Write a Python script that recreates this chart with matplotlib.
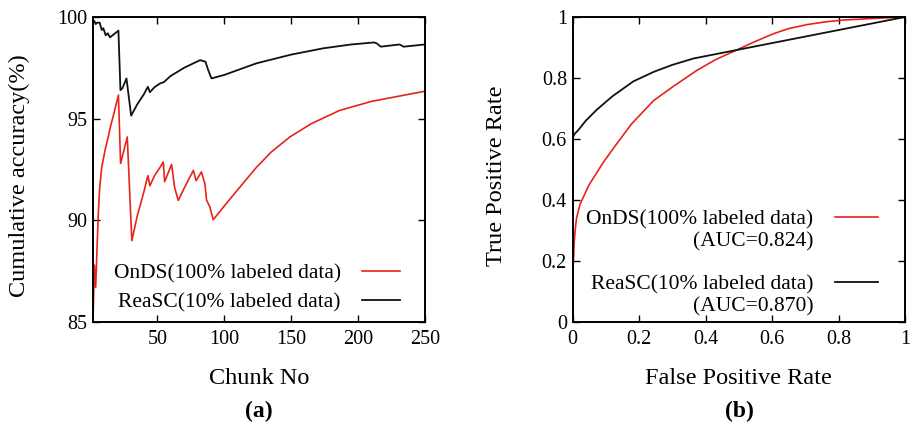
import matplotlib
matplotlib.use("Agg")
import matplotlib.pyplot as plt
from matplotlib.lines import Line2D

# ---- data ----
reasc_chunk = [2, 3, 4, 5, 7, 8.5, 9.7, 11.5, 13, 14.7, 21, 22.5, 24, 27, 30.5, 35, 40, 43,
               44.5, 48, 52, 55, 60, 70, 82, 86, 88, 90.5, 100, 124, 150, 174, 195, 212,
               214, 217, 231, 234, 250]
reasc_acc = [99.85, 99.8, 99.65, 99.72, 99.72, 99.36, 99.45, 99.1, 99.2, 99.0, 99.33, 96.4,
             96.5, 96.98, 95.15, 95.7, 96.2, 96.57, 96.3, 96.55, 96.73, 96.8, 97.1, 97.5,
             97.88, 97.8, 97.4, 96.98, 97.15, 97.72, 98.15, 98.46, 98.65, 98.75, 98.7,
             98.54, 98.65, 98.54, 98.65]

onds_chunk = [2, 3, 4, 5, 6, 7, 8.5, 11, 13.4, 15, 17, 21, 22.6, 27.6, 31, 35, 40, 43, 44.5,
              48, 52, 54.5, 55.5, 60.7, 63, 65.7, 71, 77, 79, 83, 85.6, 86.8, 89.3, 91.8,
              100, 110, 124, 135, 149, 165, 186, 210, 230, 250]
onds_acc = [85.0, 87.8, 86.7, 88.6, 90.4, 91.6, 92.6, 93.45, 94.1, 94.6, 95.1, 96.16, 92.8,
            94.1, 89.0, 90.2, 91.4, 92.2, 91.7, 92.2, 92.6, 92.87, 91.9, 92.75, 91.6, 90.98,
            91.7, 92.46, 91.95, 92.38, 91.8, 91.0, 90.66, 90.03, 90.7, 91.5, 92.6, 93.35,
            94.1, 94.75, 95.4, 95.85, 96.1, 96.35]

reasc_fpr = [0, 0, 0.005, 0.018, 0.04, 0.073, 0.12, 0.183, 0.244, 0.3, 0.364, 1.0]
reasc_tpr = [0, 0.6, 0.615, 0.63, 0.66, 0.696, 0.74, 0.789, 0.82, 0.843, 0.864, 1.0]

onds_fpr = [0, 0, 0.003, 0.005, 0.008, 0.012, 0.023, 0.05, 0.093, 0.13, 0.178, 0.244, 0.3,
            0.374, 0.43, 0.494, 0.55, 0.604, 0.65, 0.705, 0.76, 0.815, 0.9, 1.0]
onds_tpr = [0, 0.17, 0.2, 0.26, 0.3, 0.34, 0.387, 0.45, 0.524, 0.58, 0.65, 0.726, 0.77,
            0.825, 0.86, 0.892, 0.92, 0.945, 0.962, 0.975, 0.984, 0.99, 0.995, 1.0]

acc_yticks = [85, 90, 95, 100]
chunk_xticks = [50, 100, 150, 200, 250]
roc_ticks = [0, 0.2, 0.4, 0.6, 0.8, 1.0]
roc_ticklabels = ["0", "0.2", "0.4", "0.6", "0.8", "1"]

onds_label = "OnDS(100% labeled data)"
reasc_label = "ReaSC(10% labeled data)"
onds_auc = "(AUC=0.824)"
reasc_auc = "(AUC=0.870)"

RED = "#e8231b"
BLACK = "#111111"

plt.rcParams["font.family"] = ["Liberation Serif", "DejaVu Serif"]

fig = plt.figure(figsize=(9.15, 4.28), dpi=100)
W, H = 915, 428
ax1 = fig.add_axes([93 / W, 1 - 322 / H, 332 / W, 305 / H])
ax2 = fig.add_axes([572.5 / W, 1 - 322 / H, 332.5 / W, 305 / H])

TICK_FS = 14.5
LAB_FS = 17.5
LEG_FS = 15.5

for ax in (ax1, ax2):
    ax.tick_params(direction="in", top=True, right=True, length=5, width=1.0,
                   labelsize=TICK_FS)
    ax.tick_params(axis="x", pad=6)
    ax.tick_params(axis="y", pad=4)
    for s in ax.spines.values():
        s.set_linewidth(1.4)

# ---- (a) ----
ax1.plot(onds_chunk, onds_acc, color=RED, lw=1.2, label=onds_label)
ax1.plot(reasc_chunk, reasc_acc, color=BLACK, lw=1.3, label=reasc_label)
ax1.set_xlim(2, 250)
ax1.set_ylim(85, 100)
ax1.set_xticks(chunk_xticks)
ax1.set_yticks(acc_yticks)
ax1.set_xlabel("Chunk No", fontsize=LAB_FS)
ax1.set_ylabel("Cumulative accuracy(%)", fontsize=LAB_FS)
ax1.xaxis.set_label_coords(0.5, -0.15)
ax1.yaxis.set_label_coords(-0.19, 0.48)
leg1 = ax1.legend(loc="center right", bbox_to_anchor=(0.925, 0.112), markerfirst=False,
                  frameon=False, fontsize=LEG_FS, handlelength=1.75, handletextpad=1.0,
                  labelspacing=0.42, borderpad=0, borderaxespad=0)

# ---- (b) ----
ax2.plot(onds_fpr, onds_tpr, color=RED, lw=1.2)
ax2.plot(reasc_fpr, reasc_tpr, color=BLACK, lw=1.3)
ax2.set_xlim(0, 1)
ax2.set_ylim(0, 1)
ax2.set_xticks(roc_ticks)
ax2.set_xticklabels(roc_ticklabels)
ax2.set_yticks(roc_ticks)
ax2.set_yticklabels(roc_ticklabels)
ax2.set_xlabel("False Positive Rate", fontsize=LAB_FS)
ax2.set_ylabel("True Positive Rate", fontsize=LAB_FS)
ax2.xaxis.set_label_coords(0.5, -0.15)
ax2.yaxis.set_label_coords(-0.197, 0.48)

blank = Line2D([], [], linestyle="none")
h_red = Line2D([], [], color=RED, lw=1.2)
h_blk = Line2D([], [], color=BLACK, lw=1.3)
legA = ax2.legend([h_red, blank], [onds_label, onds_auc], loc="center right",
                  bbox_to_anchor=(0.919, 0.300), markerfirst=False, frameon=False,
                  fontsize=LEG_FS, handlelength=2.0, handletextpad=1.0, labelspacing=0.1,
                  borderpad=0, borderaxespad=0)
ax2.add_artist(legA)
legB = ax2.legend([h_blk, blank], [reasc_label, reasc_auc], loc="center right",
                  bbox_to_anchor=(0.919, 0.087), markerfirst=False, frameon=False,
                  fontsize=LEG_FS, handlelength=2.0, handletextpad=1.0, labelspacing=0.1,
                  borderpad=0, borderaxespad=0)

fig.text(259 / W, 1 - 411 / H, "(a)", ha="center", va="center", fontsize=17,
         fontweight="bold")
fig.text(739 / W, 1 - 411 / H, "(b)", ha="center", va="center", fontsize=17,
         fontweight="bold")

fig.savefig("out.png", dpi=100)
